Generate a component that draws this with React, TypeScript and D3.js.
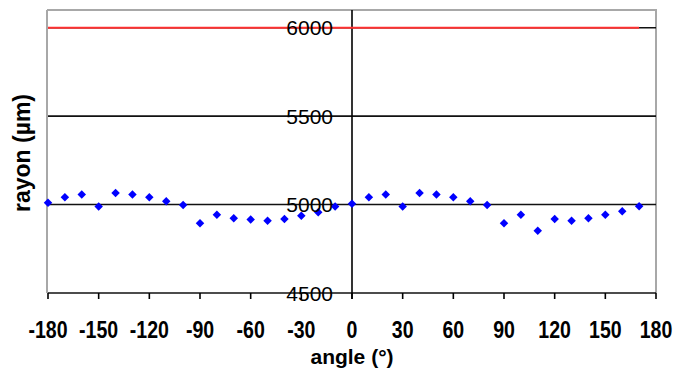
import React from "react";
import * as d3 from "d3";

const angles = [-180,-170,-160,-150,-140,-130,-120,-110,-100,-90,-80,-70,-60,-50,-40,-30,-20,-10,0,10,20,30,40,50,60,70,80,90,100,110,120,130,140,150,160,170];
const rayon = [5010,5041,5057,4989,5066,5057,5041,5019,4998,4894,4943,4922,4915,4909,4919,4937,4956,4989,5004,5041,5057,4989,5066,5057,5041,5019,4998,4894,4943,4852,4919,4909,4922,4943,4962,4990];
const refAngles = [-180, 170];
const refValue = [6000, 6000];
const xTicks = [-180,-150,-120,-90,-60,-30,0,30,60,90,120,150,180];
const yTicks = [4500,5000,5500,6000];

export default function App() {
  const W = 687, H = 372;
  const left = 48, right = 656, top = 10, bottom = 293;
  const x = d3.scaleLinear().domain([-180, 180]).range([left, right]);
  const y = d3.scaleLinear().domain([4500, 6100]).range([bottom, top]);
  const diamond = d3.symbol().type(d3.symbolDiamond2).size(46)();
  const refLine = d3.line<number>().x((d, i) => x(refAngles[i])).y((d) => y(d))(refValue) || "";
  const font = "'Liberation Sans', Arial, sans-serif";
  return (
    <svg width={W} height={H} style={{ position: "absolute", left: 0, top: 0, background: "#fff" }}>
      <rect x={0} y={0} width={W} height={H} fill="#fff" />
      {/* plot border */}
      <line x1={left - 1} x2={left - 1} y1={top} y2={bottom} stroke="#a8a8a8" strokeWidth={2} />
      <line x1={left - 1} x2={right + 1} y1={top} y2={top} stroke="#a8a8a8" strokeWidth={2} />
      <line x1={right} x2={right} y1={top} y2={bottom} stroke="#a8a8a8" strokeWidth={2} />
      {/* gridlines */}
      {yTicks.map((t) => (
        <line key={"g" + t} x1={left} x2={right} y1={y(t)} y2={y(t)} stroke="#111" strokeWidth={1.6} />
      ))}
      {/* y axis at 0 */}
      <line x1={x(0)} x2={x(0)} y1={top} y2={bottom + 6} stroke="#000" strokeWidth={1.6} />
      {/* x ticks */}
      {xTicks.map((t) => (
        <line key={"t" + t} x1={x(t)} x2={x(t)} y1={bottom} y2={bottom + 6} stroke="#000" strokeWidth={1.6} />
      ))}
      {/* reference red line */}
      <path d={refLine} stroke="#ff3030" strokeWidth={2} fill="none" />
      {/* data points */}
      {angles.map((a, i) => (
        <path key={"p" + a} d={diamond} transform={`translate(${x(a)},${y(rayon[i])})`} fill="#0000ff" />
      ))}
      {/* y tick labels */}
      {yTicks.map((t) => (
        <text key={"yl" + t} x={x(0) - 19} y={y(t) + 7.5} textAnchor="end" fontFamily={font} fontSize={21} fill="#000">
          {t}
        </text>
      ))}
      {/* x tick labels */}
      {xTicks.map((t) => (
        <text key={"xl" + t} transform={`translate(${x(t)},337.5) scale(0.85,1)`} textAnchor="middle" fontFamily={font} fontSize={23} fontWeight="bold" fill="#000">
          {t}
        </text>
      ))}
      <text x={352} y={364} textAnchor="middle" fontFamily={font} fontSize={21} fontWeight="bold" fill="#000">
        angle (°)
      </text>
      <text transform="translate(30,153) rotate(-90)" textAnchor="middle" fontFamily={font} fontSize={23} fontWeight="bold" fill="#000">
        rayon (µm)
      </text>
    </svg>
  );
}
